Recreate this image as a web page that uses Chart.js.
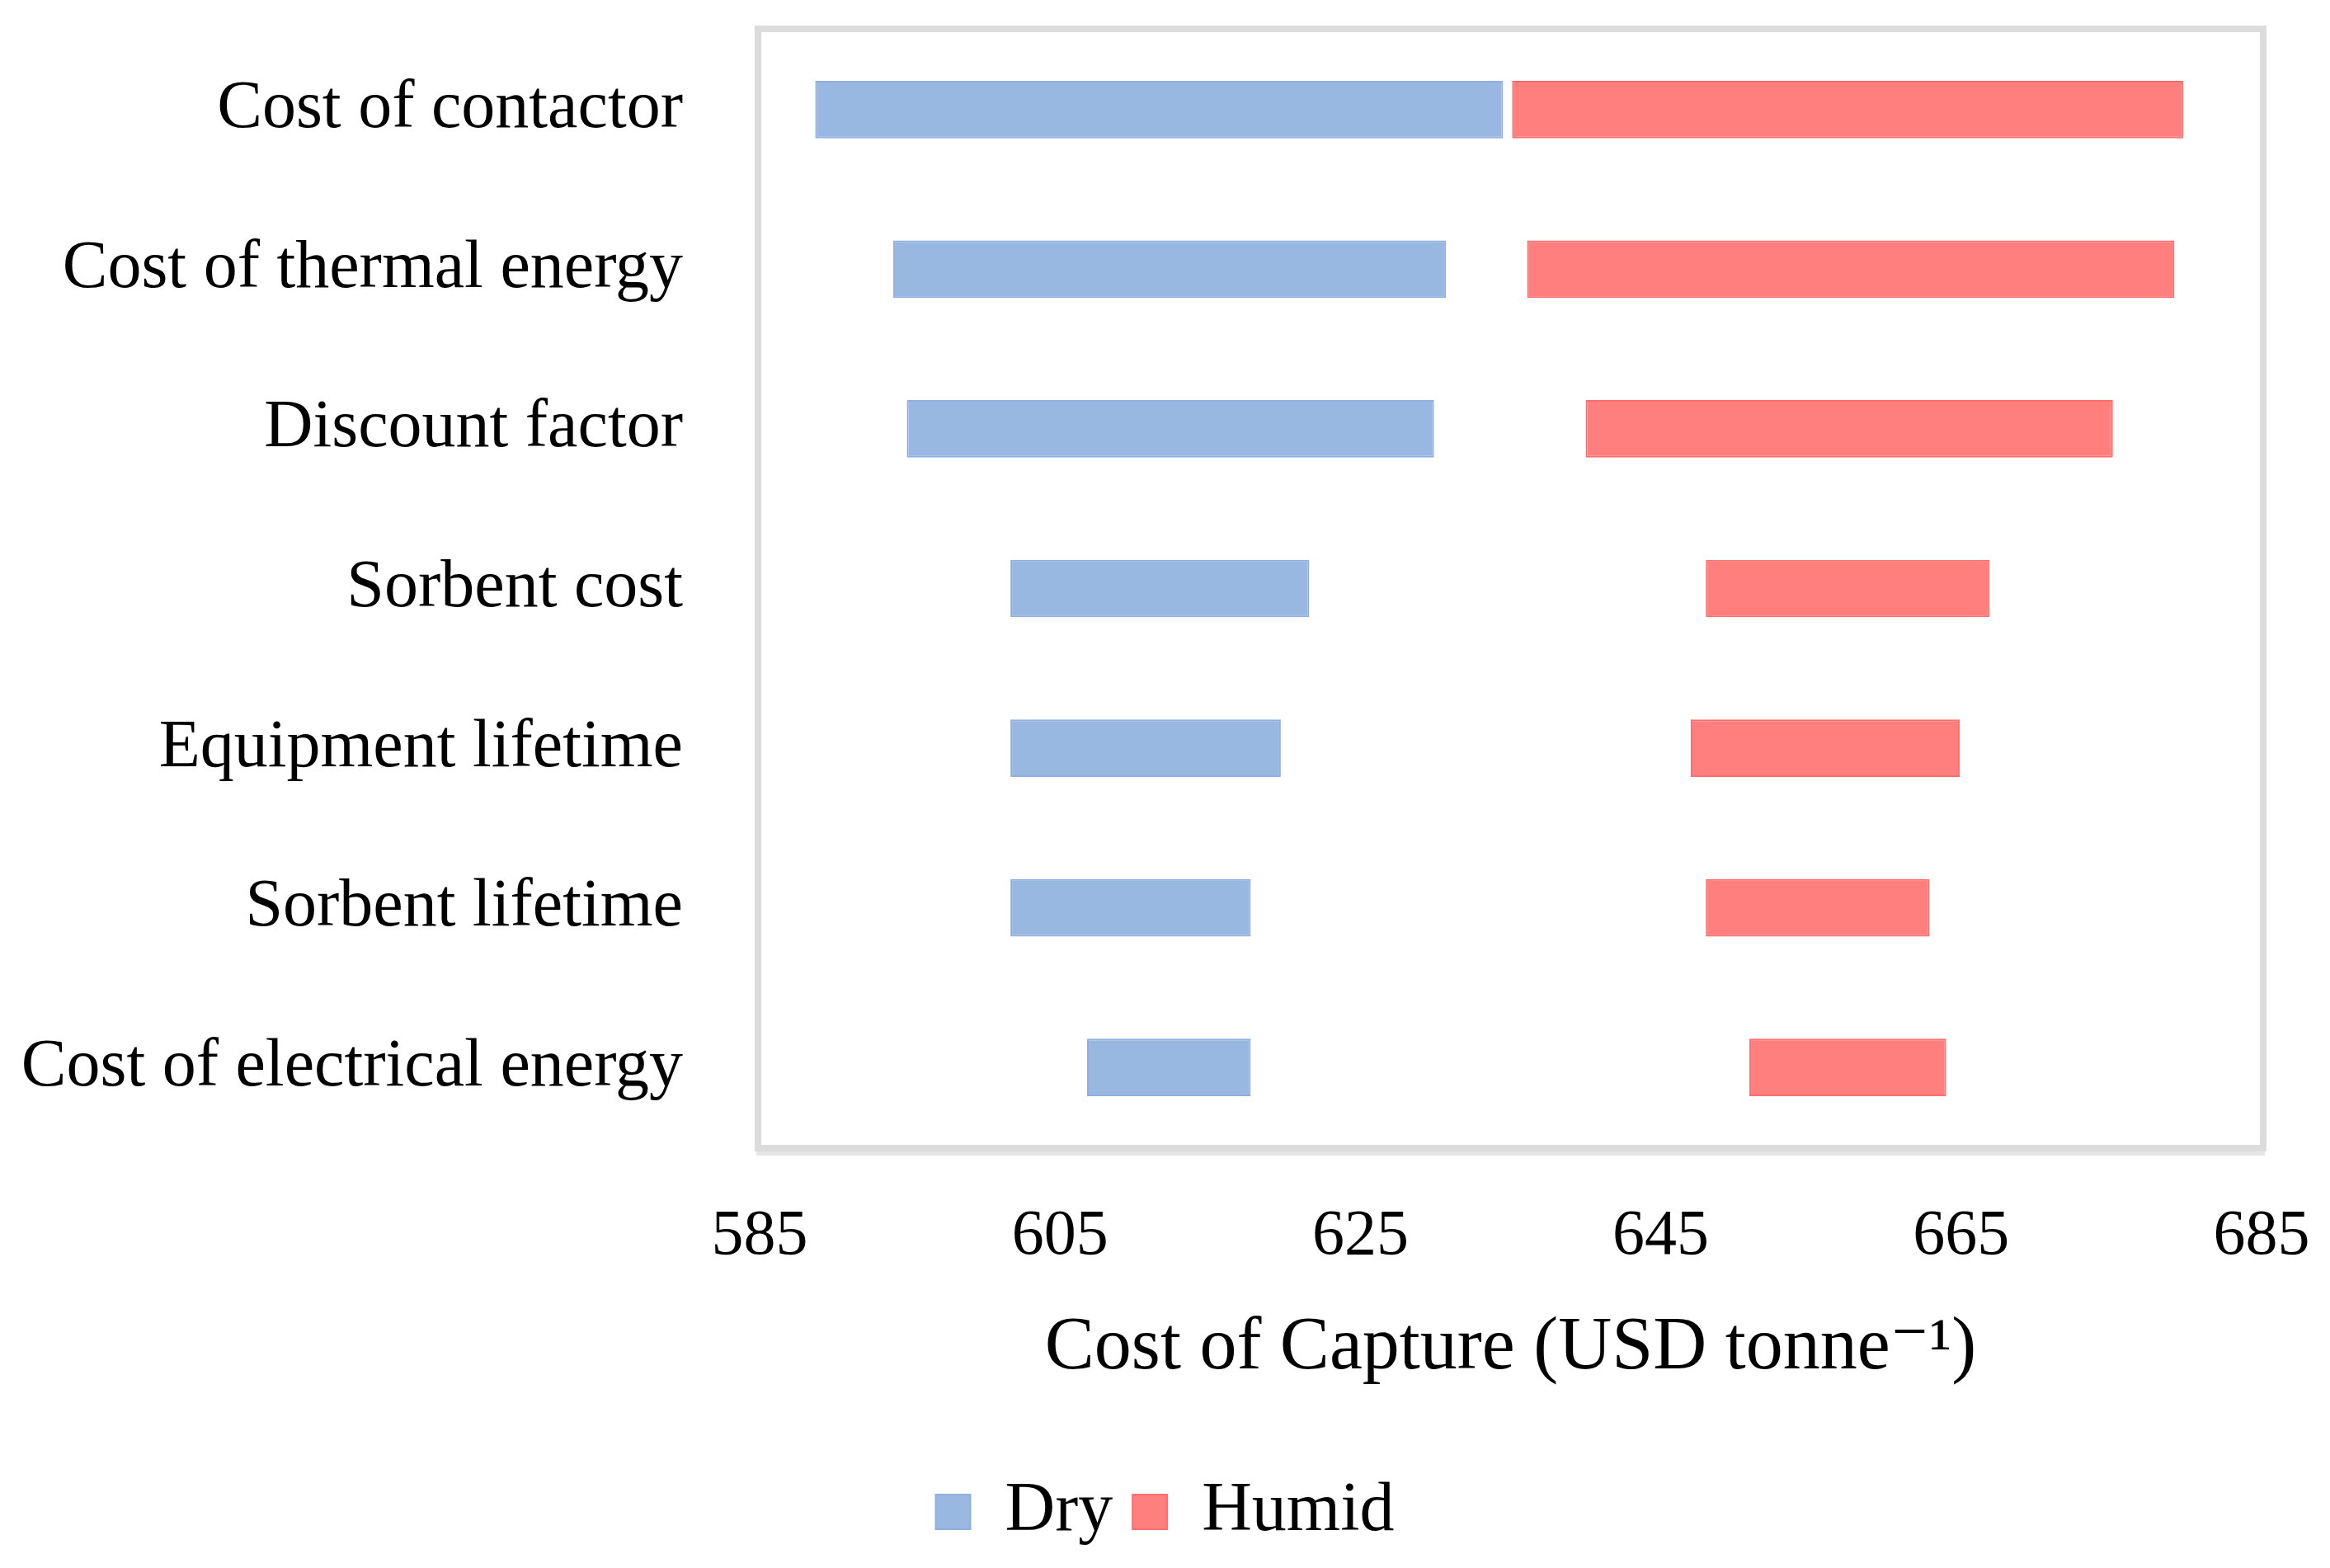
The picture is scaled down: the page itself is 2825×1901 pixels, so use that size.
<!DOCTYPE html>
<html>
<head>
<meta charset="utf-8">
<script src="https://cdn.jsdelivr.net/npm/chart.js@4.4.1/dist/chart.umd.min.js"></script>
<style>
	html, body { margin: 0; padding: 0; background: #ffffff; }
	#myChart { display: block; }
</style>
</head>
<body>
<canvas id="myChart" width="2825" height="1901"></canvas>
<script>
/* datos del grafico tornado */
const categories = [
	"Cost of contactor",
	"Cost of thermal energy",
	"Discount factor",
	"Sorbent cost",
	"Equipment lifetime",
	"Sorbent lifetime",
	"Cost of electrical energy"
];
const dryLow   = [588.7, 593.9, 594.8, 601.7, 601.7, 601.7, 606.8];
const dryHigh  = [634.5, 630.7, 629.9, 621.6, 619.7, 617.7, 617.7];
const humidLow = [635.1, 636.1, 640.0, 648.0, 647.0, 648.0, 650.9];
const humidHigh= [679.8, 679.2, 675.1, 666.9, 664.9, 662.9, 664.0];
const xTicks = [585, 605, 625, 645, 665, 685];

const fontName = "'Liberation Serif', 'DejaVu Serif', serif";

// marco gris alrededor del area del grafico
const frame = {
	id: "frame",
	beforeDatasetsDraw(chart) {
		const a = chart.chartArea;
		const c = chart.ctx;
		c.save();
		c.fillStyle = "#e6e6e6";
		c.fillRect(a.left - 4, a.bottom, a.right - a.left + 8, 10);
		c.strokeStyle = "#dcdcdc";
		c.lineWidth = 8;
		c.strokeRect(a.left - 2, a.top - 1, a.right - a.left + 4, a.bottom - a.top + 2);
		c.restore();
	}
};

const ctx = document.getElementById("myChart").getContext("2d");

let myChart = new Chart(ctx, {
	type: "bar",
	data: {
		labels: categories,
		datasets: [
			{
				label: "Dry",
				data: dryLow.map((v, i) => [v, dryHigh[i]]),
				backgroundColor: "#98b8e2",
				borderColor: "#8eafdf",
				borderWidth: 2,
				borderSkipped: false,
				grouped: false,
			},
			{
				label: "Humid",
				data: humidLow.map((v, i) => [v, humidHigh[i]]),
				backgroundColor: "#ff7f7f",
				borderColor: "#ff6e6e",
				borderWidth: 2,
				borderSkipped: false,
				grouped: false,
			}
		],
	},
	options: {
		indexAxis: "y",
		responsive: false,
		animation: false,
		devicePixelRatio: 1,
		categoryPercentage: 1,
		barPercentage: 0.36,
		layout: {
			padding: { top: 36, right: 0, bottom: 16, left: 0 }
		},
		scales: {
			x: {
				min: 585,
				max: 685,
				afterBuildTicks: (axis) => {
					axis.ticks = xTicks.map(v => ({ value: v }));
				},
				afterFit: (axis) => {
					axis.height = 376;
					axis.paddingLeft = 0;
					axis.paddingRight = 0;
				},
				grid: { display: false, drawTicks: false },
				border: { display: false },
				ticks: {
					padding: 62,
					color: "#000000",
					font: { family: fontName, size: 78 },
					maxRotation: 0,
				},
				title: {
					display: true,
					text: "Cost of Capture (USD tonne\u207B\u00B9)",
					color: "#000000",
					font: { family: fontName, size: 90 },
					padding: { top: 30, bottom: 78 },
				},
			},
			y: {
				afterFit: (axis) => {
					axis.width = 921;
					axis.paddingTop = 0;
					axis.paddingBottom = 0;
				},
				grid: { display: false, drawTicks: false },
				border: { display: false },
				ticks: {
					padding: 93,
					color: "#000000",
					font: { family: fontName, size: 82 },
				},
			},
			// eje vacio a la derecha, solo reserva margen
			y2: {
				type: "category",
				position: "right",
				afterFit: (axis) => {
					axis.width = 83;
					axis.paddingTop = 0;
					axis.paddingBottom = 0;
				},
				grid: { display: false, drawTicks: false },
				border: { display: false },
				ticks: { display: false },
			},
		},
		plugins: {
			legend: {
				position: "bottom",
				labels: {
					boxWidth: 42,
					boxHeight: 42,
					padding: 24,
					color: "#000000",
					font: { family: fontName, size: 84 },
				},
			},
			tooltip: { enabled: false },
		},
	},
	plugins: [frame],
});
</script>
</body>
</html>
